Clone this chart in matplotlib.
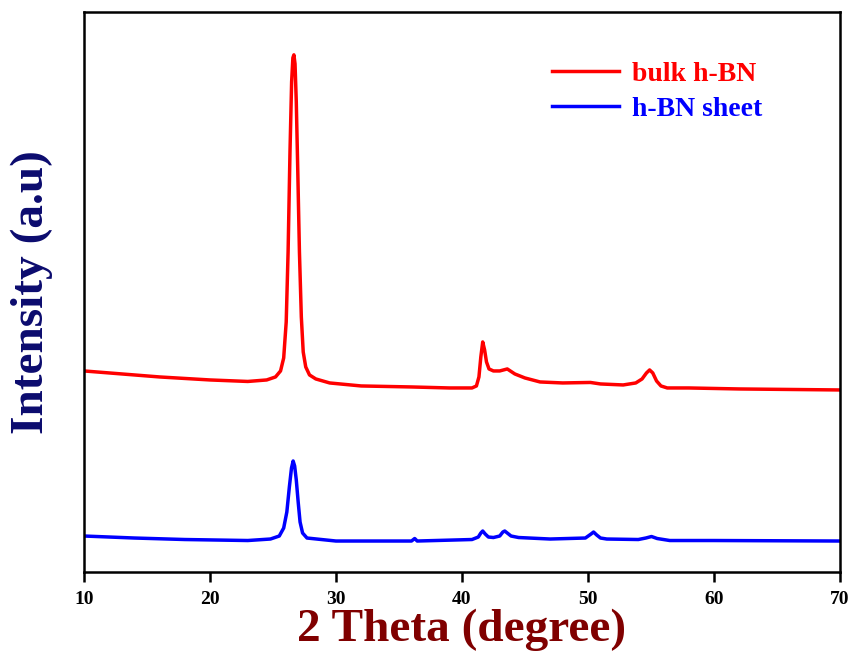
import numpy as np
import matplotlib
matplotlib.use("Agg")
import matplotlib.pyplot as plt

plt.rcParams['font.family'] = ['Liberation Serif', 'DejaVu Serif']
plt.rcParams['font.weight'] = 'bold'

# readings from the reference, intensity in arbitrary units (pixels above the bottom axis)
bulk_x = [10, 13, 16, 20, 23, 24.5, 25.2, 25.6, 25.85, 26.05, 26.2, 26.35, 26.48, 26.58,
          26.66, 26.75, 26.85, 26.97, 27.1, 27.25, 27.4, 27.6, 27.9, 28.4, 29.5, 32, 36,
          39, 40.8, 41.15, 41.35, 41.5, 41.65, 41.8, 41.95, 42.15, 42.5, 43.0, 43.6, 44.2,
          45, 46.2, 48, 50.2, 51, 52.8, 53.8, 54.3, 54.65, 54.9, 55.15, 55.45, 55.8, 56.3,
          58, 62, 66, 70]
bulk_y = [201, 198, 195, 192, 190.5, 192, 195, 201, 214, 250, 320, 420, 490, 514,
          517, 508, 470, 400, 320, 255, 220, 205, 197, 193, 189, 186, 185,
          184, 184, 186, 195, 215, 230, 222, 210, 203, 201, 201, 203, 198,
          194, 190, 189, 189.5, 188, 187, 189, 193, 199, 202, 199, 191, 186, 184,
          184, 183, 182.5, 182]

sheet_x = [10, 14, 18, 23, 24.8, 25.5, 25.85, 26.1, 26.3, 26.47, 26.6, 26.72, 26.85,
           27.0, 27.15, 27.35, 27.7, 30, 36, 36.25, 36.45, 40.8, 41.3, 41.5, 41.65, 41.85,
           42.1, 42.5, 43.0, 43.25, 43.4, 43.6, 43.9, 44.5, 47, 49.8, 50.25, 50.45, 50.7,
           51.0, 51.5, 54, 54.6, 55.05, 55.5, 56.5, 60, 70]
sheet_y = [36, 34, 32.5, 31.5, 33, 36, 44, 60, 85, 104, 111, 106, 92,
           70, 50, 39, 34, 31, 31, 33.5, 31, 32.5, 35, 39, 41, 38,
           35, 34.5, 36, 40, 41, 39, 36, 34.5, 33, 34, 38, 40, 37,
           34, 33, 32.5, 34, 35.5, 33.5, 31.5, 31.5, 31]

xticks = [10, 20, 30, 40, 50, 60, 70]

fig = plt.figure(figsize=(8.54, 6.56), dpi=100)
ax = fig.add_axes([0.0984, 0.128, 0.885, 0.854])

ax.plot(bulk_x, bulk_y, color='#ff0000', lw=2.5, label='bulk h-BN')
ax.plot(sheet_x, sheet_y, color='#0000ff', lw=2.5, label='h-BN sheet')

ax.set_xlim(10, 70)
ax.set_ylim(0, 560)
ax.set_xticks(xticks)
ax.set_yticks([])
ax.tick_params(axis='x', direction='out', length=7, width=1.8, labelsize=14, pad=7)
for lab in ax.get_xticklabels():
    lab.set_fontweight('bold')
for sp in ax.spines.values():
    sp.set_linewidth(1.8)

ax.set_xlabel('2 Theta (degree)', fontsize=34, fontweight='bold', color='#800000', labelpad=0)
ax.set_ylabel('Intensity (a.u)', fontsize=34, fontweight='bold', color='#0b0b6e', labelpad=22)

leg = ax.legend(loc='upper left', bbox_to_anchor=(0.619, 0.912), frameon=False,
                borderaxespad=0, borderpad=0,
                prop={'size': 20, 'weight': 'bold'}, handlelength=2.4,
                handletextpad=0.5, labelspacing=0.36)
for txt, ln in zip(leg.get_texts(), leg.get_lines()):
    txt.set_color(ln.get_color())

fig.savefig('out.png', dpi=100)
